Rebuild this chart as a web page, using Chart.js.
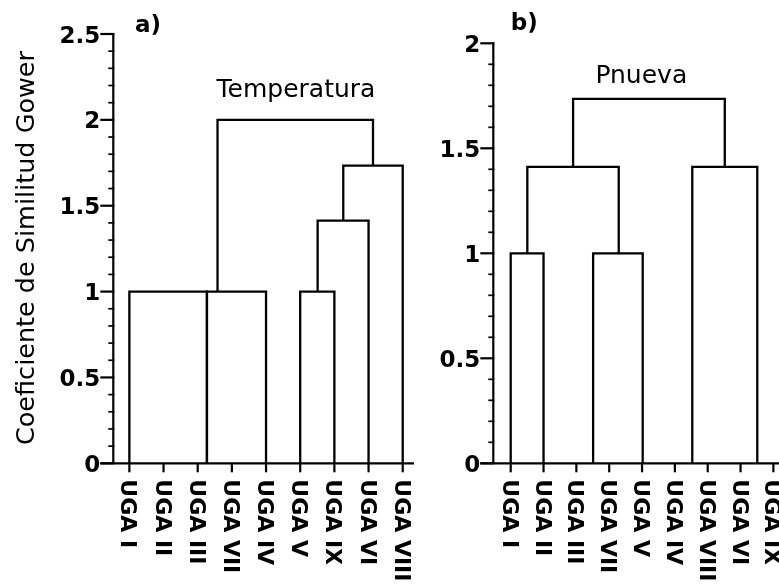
<!DOCTYPE html>
<html><head><meta charset="utf-8">
<script src="https://cdn.jsdelivr.net/npm/chart.js@4/dist/chart.umd.min.js"></script>
<style>
html,body{margin:0;padding:0;background:#fff;overflow:hidden;width:779px;height:586px;}
#wrap{position:relative;width:779px;height:586px;overflow:hidden;background:#fff;}
canvas{position:absolute;top:0;}
#ca{left:0;}
#cb{left:420px;}
</style></head><body>
<div id="wrap"><canvas id="ca" width="420" height="586"></canvas><canvas id="cb" width="400" height="586"></canvas></div>
<script>
// ---- Data ----
const categoriesA = ['UGA I','UGA II','UGA III','UGA VII','UGA IV','UGA V','UGA IX','UGA VI','UGA VIII'];
const categoriesB = ['UGA I','UGA II','UGA III','UGA VII','UGA V','UGA IV','UGA VIII','UGA VI','UGA IX'];
// each link: [x of left leg, bottom of left leg, x of right leg, bottom of right leg, join height]
const linksA = [
  [0, 0, 2.27, 0, 1],
  [2.27, 0, 4, 0, 1],
  [5, 0, 6, 0, 1],
  [5.51, 1, 7, 0, 1.413],
  [6.26, 1.413, 8, 0, 1.733],
  [2.58, 1, 7.13, 1.733, 2]
];
const linksB = [
  [0, 0, 1, 0, 1],
  [2.51, 0, 4.02, 0, 1],
  [0.506, 1, 3.29, 1, 1.412],
  [5.53, 0, 7.51, 0, 1.412],
  [1.9, 1.412, 6.52, 1.412, 1.735]
];
const yTicksA = [0, 0.5, 1, 1.5, 2, 2.5];
const yTickLabelsA = ['0', '0.5', '1', '1.5', '2', '2.5'];
const yTicksB = [0, 0.5, 1, 1.5, 2];
const yTickLabelsB = ['0', '0.5', '1', '1.5', '2'];
const titleA = 'Temperatura';
const titleB = 'Pnueva';
const panelA = 'a)';
const panelB = 'b)';
const yTitle = 'Coeficiente de Similitud Gower';

// ---- Drawing ----
function axesPlugin(cfg) {
  return {
    id: 'dendroAxes',
    afterDatasetsDraw(chart) {
      const ctx = chart.ctx;
      const xs = chart.scales.x, ys = chart.scales.y;
      const area = chart.chartArea;
      const y0 = ys.getPixelForValue(0);
      const yTop = ys.getPixelForValue(cfg.yMax);
      ctx.save();
      ctx.strokeStyle = '#000';
      ctx.fillStyle = '#000';
      ctx.lineCap = 'butt';
      // y axis line
      ctx.lineWidth = 2.2;
      ctx.beginPath();
      ctx.moveTo(area.left, yTop - 1);
      ctx.lineTo(area.left, y0);
      ctx.stroke();
      // y ticks (minor every 0.1, major every 0.5)
      const n = Math.round(cfg.yMax * 10);
      for (let i = 0; i <= n; i++) {
        const py = ys.getPixelForValue(i / 10);
        const len = (i % 5 === 0) ? 13 : 5;
        ctx.lineWidth = (i % 5 === 0) ? 2.2 : 1.7;
        ctx.beginPath();
        ctx.moveTo(area.left - len, py);
        ctx.lineTo(area.left + 1, py);
        ctx.stroke();
      }
      // y labels
      ctx.font = 'bold 23px "DejaVu Sans"';
      ctx.textAlign = 'right';
      ctx.textBaseline = 'alphabetic';
      cfg.yTicks.forEach((v, k) => {
        const py = ys.getPixelForValue(v);
        ctx.fillText(cfg.yLabels[k], area.left - 13, py + 8.5);
      });
      // x axis line
      ctx.lineWidth = 2.2;
      ctx.beginPath();
      ctx.moveTo(area.left - 13, y0);
      ctx.lineTo(area.right, y0);
      ctx.stroke();
      // x ticks and labels
      ctx.font = 'bold 22px "DejaVu Sans"';
      ctx.textAlign = 'left';
      cfg.categories.forEach((lab, i) => {
        const px = xs.getPixelForValue(i);
        ctx.lineWidth = 2.2;
        ctx.beginPath();
        ctx.moveTo(px, y0);
        ctx.lineTo(px, y0 + 9);
        ctx.stroke();
        ctx.save();
        ctx.translate(px, y0 + 16);
        ctx.rotate(Math.PI / 2);
        ctx.fillText(lab, 0, 8);
        ctx.restore();
      });
      // panel letter
      ctx.font = 'bold 23px "DejaVu Sans"';
      ctx.textAlign = 'left';
      ctx.fillText(cfg.panel, cfg.panelX, cfg.panelY);
      // title
      ctx.font = '25px "DejaVu Sans"';
      ctx.textAlign = 'center';
      ctx.fillText(cfg.title, cfg.titleX, cfg.titleY);
      // y axis title
      if (cfg.yTitle) {
        ctx.save();
        ctx.translate(33.5, 248);
        ctx.rotate(-Math.PI / 2);
        ctx.font = '25.5px "DejaVu Sans"';
        ctx.textAlign = 'center';
        ctx.fillText(cfg.yTitle, 0, 0);
        ctx.restore();
      }
      ctx.restore();
    }
  };
}

function makeChart(id, links, xMin, xMax, yMax, padding, cfg) {
  cfg.yMax = yMax;
  return new Chart(document.getElementById(id), {
    type: 'scatter',
    data: {
      datasets: links.map(l => ({
        data: [{x: l[0], y: l[1]}, {x: l[0], y: l[4]}, {x: l[2], y: l[4]}, {x: l[2], y: l[3]}],
        showLine: true,
        borderColor: '#000',
        borderWidth: 2.3,
        pointRadius: 0,
        pointHoverRadius: 0,
        fill: false,
        tension: 0,
        borderJoinStyle: 'miter',
        borderCapStyle: 'butt',
        clip: false
      }))
    },
    options: {
      responsive: false,
      animation: false,
      devicePixelRatio: 1,
      events: [],
      layout: {padding},
      plugins: {legend: {display: false}, tooltip: {enabled: false}, title: {display: false}},
      scales: {
        x: {type: 'linear', min: xMin, max: xMax, display: false},
        y: {type: 'linear', min: 0, max: yMax, display: false}
      }
    },
    plugins: [axesPlugin(cfg)]
  });
}

makeChart('ca', linksA, -0.47, 8.33, 2.5,
  {left: 113.3, top: 34, right: 6, bottom: 122.7},
  {categories: categoriesA, yTicks: yTicksA, yLabels: yTickLabelsA,
   panel: panelA, panelX: 135, panelY: 31.5,
   title: titleA, titleX: 296, titleY: 97.3, yTitle: yTitle});

makeChart('cb', linksB, -0.53, 8.5, 2,
  {left: 73.3, top: 43.3, right: 30.2, bottom: 122.7},
  {categories: categoriesB, yTicks: yTicksB, yLabels: yTickLabelsB,
   panel: panelB, panelX: 90.7, panelY: 30,
   title: titleB, titleX: 221.3, titleY: 83.3, yTitle: null});
</script>
</body></html>
